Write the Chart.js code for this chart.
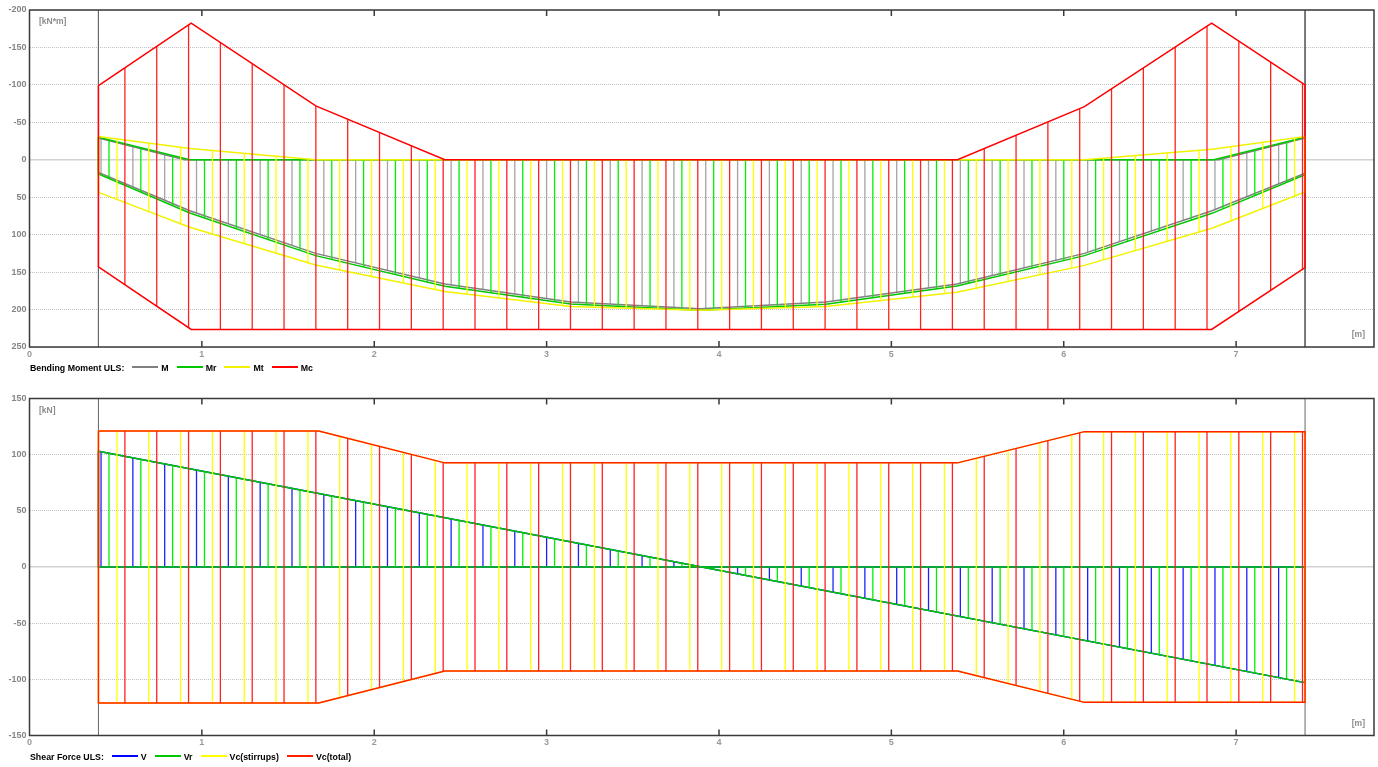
<!DOCTYPE html>
<html>
<head>
<meta charset="utf-8">
<script src="https://cdn.jsdelivr.net/npm/chart.js@4.4.1/dist/chart.umd.min.js"></script>
<style>
  html, body { margin: 0; padding: 0; background: #fff; }
  #wrap { position: relative; width: 1378px; height: 767px; overflow: hidden; font-family: 'Liberation Sans', Arial, sans-serif; }
  canvas { position: absolute; left: 0; }
  .unit { position: absolute; font-size: 8.5px; font-weight: bold; color: #8c8c8c; line-height: 10px; }
  .legend { position: absolute; left: 30px; font-size: 8.8px; font-weight: bold; color: #000; line-height: 12px; white-space: nowrap; display: flex; align-items: center; }
  .legend .key { display: inline-block; width: 26px; height: 2px; margin: 0 3px 3px 8px; }
</style>
</head>
<body>
<div id="wrap">
  <canvas id="momentChart" width="1378" height="388" style="top:0"></canvas>
  <canvas id="shearChart" width="1378" height="379" style="top:388px"></canvas>
  <div class="unit" style="left:39px;top:16px">[kN*m]</div>
  <div class="unit" style="right:13px;top:329px">[m]</div>
  <div class="unit" style="left:39px;top:405px">[kN]</div>
  <div class="unit" style="right:13px;top:718px">[m]</div>
  <div class="legend" id="momentLegend" style="top:362px"></div>
  <div class="legend" id="shearLegend" style="top:751px"></div>
</div>
<script>
// span / axis
const xMin = 0, xMax = 7.8;
const xTicks = [0, 1, 2, 3, 4, 5, 6, 7];
const supports = [0.4, 7.4];
const hatchStart = 0.415, hatchStep = 0.04616;

// Bending moment ULS [kN*m] (sagging drawn downwards)
const momentMin = -200, momentMax = 250, momentStep = 50;
const momentTitle = 'Bending Moment ULS:';
const momentNames = ['M', 'Mr', 'Mt', 'Mc'];
const momentLine = ['#808080', '#00c800', '#f2f200', '#ff0000'];
const momentHatch = ['#a4a4a4', '#00f000', '#ffff00', '#ff2020'];

const botX = [0.4, 0.93, 1.66, 2.41, 3.14, 3.89, 4.62, 5.38, 6.12, 6.86, 7.4];
const mTopX = [0.4, 0.90, 6.90, 7.4];
const mTop = [-29, 0, 0, -29];
const mBot = [17, 68, 125, 166, 190, 199, 190, 166, 125, 68, 18];
const mrTopX = [0.4, 0.93, 6.87, 7.4];
const mrTop = [-30, 0, 0, -30];
const mrBot = [19, 71, 128, 169, 192.5, 201, 193, 168.5, 128, 71.5, 20];
const mtTopX = [0.4, 0.93, 1.66, 6.12, 6.86, 7.4];
const mtTop = [-31, -15, 0, 0, -14, -31];
const mtBot = [43.5, 90, 140.5, 176, 196, 201, 196, 177, 141, 91.5, 43];
const mcTopX = [0.4, 0.938, 1.661, 2.409, 5.384, 6.12, 6.858, 7.4];
const mcTop = [-99, -182.5, -72, 0, 0, -71, -182.5, -100];
const mcBotX = [0.4, 0.938, 6.858, 7.4];
const mcBot = [143, 226.5, 226.5, 144];

// Shear force ULS [kN]
const shearMin = -150, shearMax = 150, shearStep = 50;
const shearTitle = 'Shear Force ULS:';
const shearNames = ['V', 'Vr', 'Vc(stirrups)', 'Vc(total)'];
const shearLine = ['#0000ff', '#00c800', '#ffff00', '#ff2000'];
const shearHatch = ['#2020ff', '#00f000', '#ffff00', '#ff2020'];

const vX = [0.4, 3.9, 7.4];
const v = [103, 0, -103];
const vr = [103, 0, -103];
const vcX = [0.4, 1.678, 2.409, 5.384, 6.12, 7.4];
const vcsTop = [121, 121, 92.7, 92.7, 120.5, 120.5];
const vcsBot = [-121, -121, -92.5, -92.5, -120.5, -120.5];
const vctTop = [121, 121, 92.7, 92.7, 120.5, 120.5];
const vctBot = [-121, -121, -92.5, -92.5, -120.5, -120.5];

function pts(xs, ys) {
    return xs.map((x, i) => ({ x: x, y: ys[i] }));
}

function polygon(topX, top, bX, bot) {
    const p = pts(topX, top).concat(pts(bX, bot).reverse());
    p.push(p[0]);
    return p;
}

function band(label, data, line, hatch, slot, order) {
    return {
        label: label,
        data: data,
        borderColor: line,
        borderWidth: 1.5,
        fill: false,
        pointRadius: 0,
        tension: 0,
        order: order,
        hatchSlot: slot,
        hatchColor: hatch
    };
}

function supportLines(lo, hi) {
    const data = [];
    supports.forEach((s, i) => {
        if (i) data.push({ x: s, y: null });
        data.push({ x: s, y: lo }, { x: s, y: hi });
    });
    return { label: 'support', data: data, borderColor: '#666', borderWidth: 1, pointRadius: 0, fill: false, order: 10 };
}

// vertical hatching inside each diagram, clipped to the dataset's own outline
const hatch = {
    id: 'hatch',
    beforeDatasetDraw(chart, args) {
        const ds = chart.data.datasets[args.index];
        if (ds.hatchSlot === undefined) return;
        const { ctx, chartArea: a } = chart;
        const xs = chart.scales.x;
        ctx.save();
        ctx.beginPath();
        args.meta.dataset.path(ctx);
        ctx.closePath();
        ctx.clip();
        ctx.strokeStyle = ds.hatchColor;
        ctx.lineWidth = 1.3;
        ctx.beginPath();
        for (let x = hatchStart + ds.hatchSlot * hatchStep; x <= supports[1]; x += 4 * hatchStep) {
            const px = xs.getPixelForValue(x);
            ctx.moveTo(px, a.top);
            ctx.lineTo(px, a.bottom);
        }
        ctx.stroke();
        ctx.restore();
    }
};

// plot frame and the small inner x ticks
const frame = {
    id: 'frame',
    afterDatasetsDraw(chart) {
        const { ctx, chartArea: a } = chart;
        const xs = chart.scales.x;
        ctx.save();
        ctx.strokeStyle = '#3a3a3a';
        ctx.lineWidth = 1.5;
        ctx.strokeRect(a.left, a.top, a.right - a.left, a.bottom - a.top);
        xTicks.forEach(t => {
            if (t === xMin) return;
            const px = xs.getPixelForValue(t);
            ctx.beginPath();
            ctx.moveTo(px, a.top);
            ctx.lineTo(px, a.top + 6);
            ctx.moveTo(px, a.bottom);
            ctx.lineTo(px, a.bottom - 6);
            ctx.stroke();
        });
        ctx.restore();
    }
};

function options(yMin, yMax, yStep, reverse, padTop, xHeight) {
    const tickFont = { family: "'Liberation Sans', Arial, sans-serif", size: 9, weight: 'bold' };
    return {
        responsive: false,
        animation: false,
        devicePixelRatio: 1,
        layout: { padding: { left: 0, right: 4, top: padTop, bottom: 0 } },
        plugins: { legend: { display: false }, tooltip: { enabled: false } },
        scales: {
            x: {
                type: 'linear',
                min: xMin,
                max: xMax,
                afterFit: s => { s.height = xHeight; },
                afterBuildTicks: s => { s.ticks = xTicks.map(t => ({ value: t })); },
                grid: { display: false, drawTicks: false },
                border: { display: false },
                ticks: { font: tickFont, color: '#999', padding: 2, maxRotation: 0 }
            },
            y: {
                min: yMin,
                max: yMax,
                reverse: reverse,
                afterFit: s => { s.width = 29.5; },
                ticks: { stepSize: yStep, font: tickFont, color: '#858585', padding: 3 },
                grid: {
                    drawTicks: false,
                    color: c => c.tick && c.tick.value === 0 ? '#d2d2d2' : '#c2c2c2',
                    lineWidth: c => c.tick && c.tick.value === 0 ? 1.5 : 1
                },
                border: {
                    display: false,
                    dash: c => c.tick && c.tick.value === 0 ? [] : [1, 1]
                }
            }
        }
    };
}

function buildLegend(id, title, names, colors) {
    const el = document.getElementById(id);
    let html = '<span>' + title + '</span>';
    names.forEach((n, i) => {
        html += '<span class="key" style="background:' + colors[i] + '"></span><span>' + n + '</span>';
    });
    el.innerHTML = html;
}

new Chart(document.getElementById('momentChart'), {
    type: 'line',
    data: {
        datasets: [
            supportLines(momentMin, momentMax),
            band(momentNames[0], polygon(mTopX, mTop, botX, mBot), momentLine[0], momentHatch[0], 0, 4),
            band(momentNames[1], polygon(mrTopX, mrTop, botX, mrBot), momentLine[1], momentHatch[1], 1, 3),
            band(momentNames[2], polygon(mtTopX, mtTop, botX, mtBot), momentLine[2], momentHatch[2], 2, 2),
            band(momentNames[3], polygon(mcTopX, mcTop, mcBotX, mcBot), momentLine[3], momentHatch[3], 3, 1)
        ]
    },
    options: options(momentMin, momentMax, momentStep, true, 10, 41),
    plugins: [hatch, frame]
});

new Chart(document.getElementById('shearChart'), {
    type: 'line',
    data: {
        datasets: [
            supportLines(shearMin, shearMax),
            band(shearNames[0], polygon(vX, v, [vX[0], vX[2]], [0, 0]), shearLine[0], shearHatch[0], 0, 4),
            band(shearNames[1], polygon(vX, vr, [vX[0], vX[2]], [0, 0]), shearLine[1], shearHatch[1], 1, 3),
            band(shearNames[2], polygon(vcX, vcsTop, vcX, vcsBot), shearLine[2], shearHatch[2], 2, 2),
            band(shearNames[3], polygon(vcX, vctTop, vcX, vctBot), shearLine[3], shearHatch[3], 3, 1)
        ]
    },
    options: options(shearMin, shearMax, shearStep, false, 10.5, 31.5),
    plugins: [hatch, frame]
});

buildLegend('momentLegend', momentTitle, momentNames, momentLine);
buildLegend('shearLegend', shearTitle, shearNames, shearLine);
</script>
</body>
</html>
